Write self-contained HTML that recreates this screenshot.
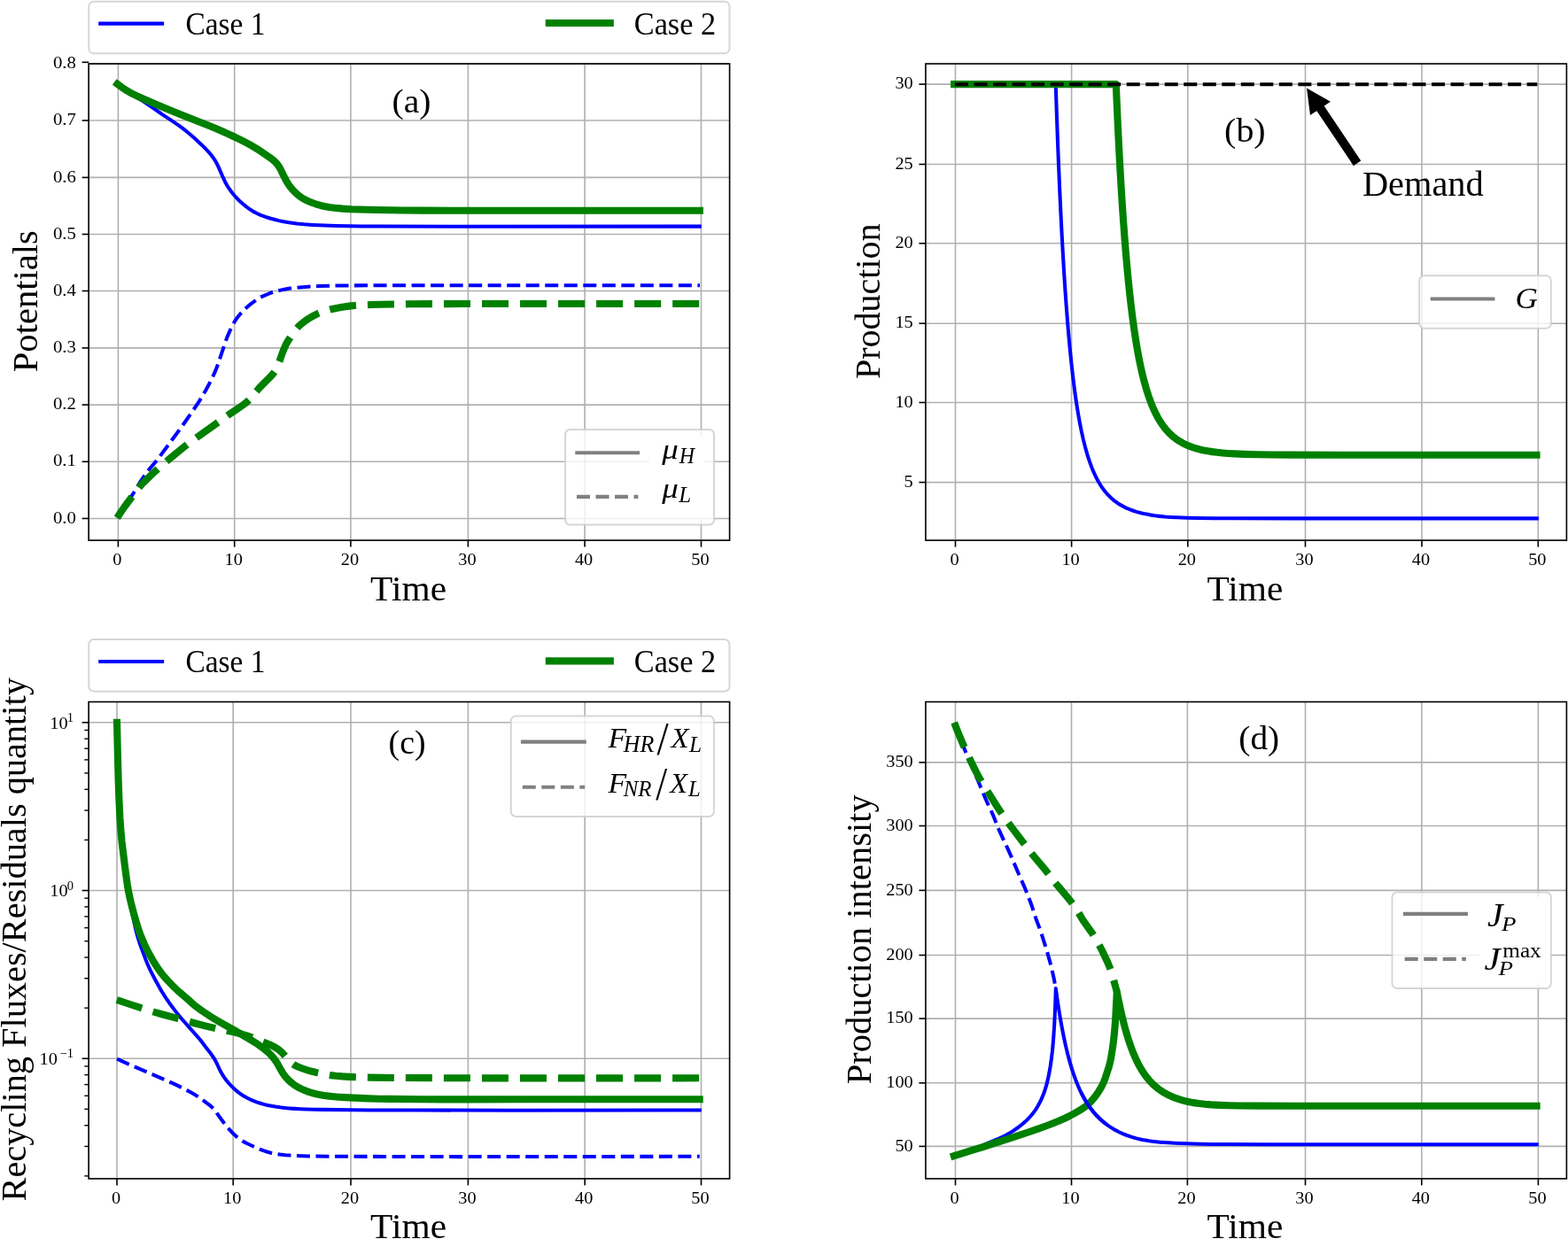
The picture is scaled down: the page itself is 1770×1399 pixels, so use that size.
<!DOCTYPE html>
<html lang="en"><head><meta charset="utf-8"><title>Figure</title><style>
html,body{margin:0;padding:0;background:#fff}
body{width:1770px;height:1399px;overflow:hidden}
svg{display:block}
text{font-family:"Liberation Serif","DejaVu Serif",serif;fill:#000}
.tk{font-size:19.3px}
.it{font-style:italic}
</style></head>
<body>
<svg width="1770" height="1399" viewBox="0 0 1770 1399">
<rect width="1770" height="1399" fill="#fff"/>
<defs>
<clipPath id="cpa"><rect x="100.1" y="72" width="723.5" height="538.1"/></clipPath>
<clipPath id="cpb"><rect x="1044.9" y="72" width="723.5" height="538.1"/></clipPath>
<clipPath id="cpc"><rect x="100.1" y="792.5" width="723.5" height="538.4"/></clipPath>
<clipPath id="cpd"><rect x="1044.9" y="792.5" width="723.5" height="538.4"/></clipPath>
</defs>
<g id="ax-a">
<g fill="none">
<path d="M133.4,72V610.1" stroke="#b0b0b0" stroke-width="1.6239999999999999"/>
<path d="M264.7,72V610.1" stroke="#b0b0b0" stroke-width="1.6239999999999999"/>
<path d="M395.9,72V610.1" stroke="#b0b0b0" stroke-width="1.6239999999999999"/>
<path d="M528.4,72V610.1" stroke="#b0b0b0" stroke-width="1.6239999999999999"/>
<path d="M660.1,72V610.1" stroke="#b0b0b0" stroke-width="1.6239999999999999"/>
<path d="M791.5,72V610.1" stroke="#b0b0b0" stroke-width="1.6239999999999999"/>
<path d="M100.1,585.45H823.6" stroke="#b0b0b0" stroke-width="1.6239999999999999"/>
<path d="M100.1,521.3H823.6" stroke="#b0b0b0" stroke-width="1.6239999999999999"/>
<path d="M100.1,457.1H823.6" stroke="#b0b0b0" stroke-width="1.6239999999999999"/>
<path d="M100.1,392.9H823.6" stroke="#b0b0b0" stroke-width="1.6239999999999999"/>
<path d="M100.1,328.5H823.6" stroke="#b0b0b0" stroke-width="1.6239999999999999"/>
<path d="M100.1,264.5H823.6" stroke="#b0b0b0" stroke-width="1.6239999999999999"/>
<path d="M100.1,200.4H823.6" stroke="#b0b0b0" stroke-width="1.6239999999999999"/>
<path d="M100.1,136.05H823.6" stroke="#b0b0b0" stroke-width="1.6239999999999999"/>
<path d="M100.1,71.9H823.6" stroke="#b0b0b0" stroke-width="1.6239999999999999"/>
</g>
<g fill="none" clip-path="url(#cpa)" stroke-linejoin="round">
<path d="M132.5,94.9L137.77,98.71L142.7,102.14L146.88,104.89L156.17,110.78L164.93,116.59L171.14,120.8L183.43,129.41L195.15,137.09L202.14,141.93L208.14,146.44L214.36,151.48L220.38,156.75L226.97,162.89L231.96,167.8L236.03,172.22L237.96,174.51L239.51,176.47L240.97,178.5L242.35,180.58L244.38,184.02L246.19,187.59L247.43,190.32L251.57,199.97L254.13,205.4L256.3,209.34L257.62,211.46L259.02,213.54L260.48,215.56L262.31,217.94L264.22,220.25L266.2,222.5L268.26,224.69L270.03,226.45L272.22,228.51L274.47,230.5L278.34,233.66L281.98,236.3L285.79,238.68L287.98,239.89L290.21,241.02L292.48,242.07L294.78,243.04L299.94,244.95L305.66,246.77L311.45,248.33L314.86,249.13L318.78,249.94L326.18,251.22L335.1,252.44L343.56,253.31L352.54,253.91L366.04,254.56L379.54,254.99L393.54,255.26L408.05,255.43L427.56,255.55L519.62,255.68L789.8,255.6" stroke="#0000ff" stroke-width="4.06" stroke-linecap="square"/>
<path d="M132.2,584.7L148.58,560.16L151.5,555.5L157.64,545.19L159.81,541.83L162.07,538.53L164.99,534.48L168.04,530.51L170.26,527.81L175.77,521.33L179.5,516.63L189.56,502.93L201.2,487.28L206.42,479.95L220.69,459.42L224.54,453.57L228.22,447.62L232.23,440.69L236.03,433.65L239.41,426.96L242.35,420.61L244.27,415.99L246.01,411.3L254.27,386.65L255.43,383.35L256.68,380.08L259.23,374.1L261.78,368.67L263.9,364.7L265.18,362.56L266.27,360.89L267.72,358.85L269.25,356.88L270.87,354.98L272.88,352.75L275.3,350.23L277.8,347.78L280.02,345.76L281.94,344.17L283.93,342.66L290,338.27L291.65,337.14L293.34,336.09L295.09,335.14L296.89,334.29L302.89,331.81L305.69,330.73L308.05,329.91L310.92,329.04L313.82,328.28L317.72,327.38L321.15,326.69L324.6,326.09L328.06,325.6L332.53,325.09L341.99,324.18L351.46,323.42L360.45,323L374.95,322.63L398.95,322.36L445.45,322.22L588.97,322.16L790,322.2" stroke="#0000ff" stroke-width="4.06" stroke-linecap="butt" stroke-dasharray="15.02,6.5" stroke-dashoffset="0.86"/>
<path d="M132.5,94.9L138.15,99.03L141.05,100.99L143.58,102.59L146.17,104.11L148.36,105.32L151.02,106.69L154.18,108.19L172.47,116.29L190.9,124.06L205.72,130.08L223.43,136.98L235.51,141.79L242.91,144.83L249.8,147.78L260.29,152.49L271.57,157.87L279.13,161.76L283.07,163.93L286.54,165.93L289.95,168.01L292.89,169.91L305.28,178.36L306.89,179.54L308.44,180.79L309.92,182.12L311.32,183.54L312.63,185.04L313.86,186.61L314.71,187.84L315.76,189.53L317.17,192.17L320.23,198.46L322.51,202.91L324.47,206.4L326.08,208.92L328.16,211.72L330.77,214.75L333.57,217.59L336.17,219.93L338.92,222.09L341.4,223.75L344.45,225.45L348.07,227.14L352.7,229.03L356.94,230.52L361.73,231.93L366.11,232.99L369.05,233.57L371.51,233.99L377.46,234.73L386.92,235.6L396.4,236.21L404.9,236.53L423.89,236.96L454.39,237.45L477.89,237.62L529.39,237.77L789.9,237.75" stroke="#008000" stroke-width="8.12" stroke-linecap="square"/>
<path d="M132.2,584.7L136.58,578L140.57,572.25L148.95,561.03L154.24,553.74L157.01,550.2L159.66,547.2L162.81,543.99L173.26,533.93L178.77,528.84L184.06,524.25L192.5,517.18L207.16,505.08L212.67,500.76L222.8,493.43L244.44,478.11L255.78,469.89L259.49,467.34L267.4,462.08L273.97,457.51L276.39,455.73L278.35,454.18L280.23,452.54L281.66,451.15L284.01,448.56L288.99,442.31L291.6,439.28L294.33,436.36L298.51,432.05L306.3,424.28L308.28,422.03L310.04,419.63L310.83,418.36L311.79,416.61L312.66,414.82L313.66,412.53L315.85,406.94L318.48,399.38L319.7,396.1L321.41,391.94L322.9,388.77L324.58,385.71L326.46,382.76L331.49,375.3L332.95,373.27L334.19,371.7L336.52,369.11L337.95,367.71L339.44,366.38L342.94,363.56L347.01,360.66L351.24,358L355.19,355.83L359.25,353.9L362.96,352.42L365.8,351.44L369.15,350.43L372.53,349.53L375.94,348.73L379.86,347.93L384.78,347.05L389.72,346.25L394.18,345.62L400.14,344.95L406.13,344.53L419.12,344.06L429.63,343.78L448.13,343.44L462.64,343.27L522.67,343.02L789.8,343" stroke="#008000" stroke-width="8.12" stroke-linecap="butt" stroke-dasharray="30.04,12.99" stroke-dashoffset="0.97"/>
</g>
<g fill="none">
<path d="M133.4,610.1v7.5" stroke="#000" stroke-width="1.6239999999999999"/>
<text x="127.33" y="637.7" class="tk" textLength="10.15" lengthAdjust="spacingAndGlyphs">0</text>
<path d="M264.7,610.1v7.5" stroke="#000" stroke-width="1.6239999999999999"/>
<text x="253.55" y="637.7" class="tk" textLength="20.3" lengthAdjust="spacingAndGlyphs">10</text>
<path d="M395.9,610.1v7.5" stroke="#000" stroke-width="1.6239999999999999"/>
<text x="384.75" y="637.7" class="tk" textLength="20.3" lengthAdjust="spacingAndGlyphs">20</text>
<path d="M528.4,610.1v7.5" stroke="#000" stroke-width="1.6239999999999999"/>
<text x="517.25" y="637.7" class="tk" textLength="20.3" lengthAdjust="spacingAndGlyphs">30</text>
<path d="M660.1,610.1v7.5" stroke="#000" stroke-width="1.6239999999999999"/>
<text x="648.95" y="637.7" class="tk" textLength="20.3" lengthAdjust="spacingAndGlyphs">40</text>
<path d="M791.5,610.1v7.5" stroke="#000" stroke-width="1.6239999999999999"/>
<text x="780.35" y="637.7" class="tk" textLength="20.3" lengthAdjust="spacingAndGlyphs">50</text>
<path d="M100.1,585.45h-7.5" stroke="#000" stroke-width="1.6239999999999999"/>
<text x="59.96" y="590.6" class="tk" textLength="25.94" lengthAdjust="spacingAndGlyphs">0.0</text>
<path d="M100.1,521.3h-7.5" stroke="#000" stroke-width="1.6239999999999999"/>
<text x="59.96" y="526.45" class="tk" textLength="25.94" lengthAdjust="spacingAndGlyphs">0.1</text>
<path d="M100.1,457.1h-7.5" stroke="#000" stroke-width="1.6239999999999999"/>
<text x="59.96" y="462.25" class="tk" textLength="25.94" lengthAdjust="spacingAndGlyphs">0.2</text>
<path d="M100.1,392.9h-7.5" stroke="#000" stroke-width="1.6239999999999999"/>
<text x="59.96" y="398.05" class="tk" textLength="25.94" lengthAdjust="spacingAndGlyphs">0.3</text>
<path d="M100.1,328.5h-7.5" stroke="#000" stroke-width="1.6239999999999999"/>
<text x="59.96" y="333.65" class="tk" textLength="25.94" lengthAdjust="spacingAndGlyphs">0.4</text>
<path d="M100.1,264.5h-7.5" stroke="#000" stroke-width="1.6239999999999999"/>
<text x="59.96" y="269.65" class="tk" textLength="25.94" lengthAdjust="spacingAndGlyphs">0.5</text>
<path d="M100.1,200.4h-7.5" stroke="#000" stroke-width="1.6239999999999999"/>
<text x="59.96" y="205.55" class="tk" textLength="25.94" lengthAdjust="spacingAndGlyphs">0.6</text>
<path d="M100.1,136.05h-7.5" stroke="#000" stroke-width="1.6239999999999999"/>
<text x="59.96" y="141.2" class="tk" textLength="25.94" lengthAdjust="spacingAndGlyphs">0.7</text>
<path d="M100.1,70.3h-7.5" stroke="#000" stroke-width="1.6239999999999999"/>
<text x="59.96" y="77.05" class="tk" textLength="25.94" lengthAdjust="spacingAndGlyphs">0.8</text>
</g>
<rect x="100.1" y="72" width="723.5" height="538.1" fill="none" stroke="#000" stroke-width="1.6239999999999999"/>
</g>
<g id="ax-b">
<g fill="none">
<path d="M1078.5,72V610.1" stroke="#b0b0b0" stroke-width="1.6239999999999999"/>
<path d="M1209.6,72V610.1" stroke="#b0b0b0" stroke-width="1.6239999999999999"/>
<path d="M1340.8,72V610.1" stroke="#b0b0b0" stroke-width="1.6239999999999999"/>
<path d="M1473.5,72V610.1" stroke="#b0b0b0" stroke-width="1.6239999999999999"/>
<path d="M1605,72V610.1" stroke="#b0b0b0" stroke-width="1.6239999999999999"/>
<path d="M1736.3,72V610.1" stroke="#b0b0b0" stroke-width="1.6239999999999999"/>
<path d="M1044.9,544.6H1768.4" stroke="#b0b0b0" stroke-width="1.6239999999999999"/>
<path d="M1044.9,454.5H1768.4" stroke="#b0b0b0" stroke-width="1.6239999999999999"/>
<path d="M1044.9,365.2H1768.4" stroke="#b0b0b0" stroke-width="1.6239999999999999"/>
<path d="M1044.9,274.8H1768.4" stroke="#b0b0b0" stroke-width="1.6239999999999999"/>
<path d="M1044.9,185.5H1768.4" stroke="#b0b0b0" stroke-width="1.6239999999999999"/>
<path d="M1044.9,95.1H1768.4" stroke="#b0b0b0" stroke-width="1.6239999999999999"/>
</g>
<g fill="none" clip-path="url(#cpb)" stroke-linejoin="round">
<path d="M1077.1,95.1L1191.7,95.1L1192.76,126.6L1193.82,156.09L1194.92,184.08L1196.06,211.07L1197.23,236.55L1198.45,261.04L1199.7,284.01L1201.01,305.98L1202.33,326.45L1203.71,345.91L1205.15,364.36L1206.64,381.81L1208.19,398.24L1209.8,413.66L1211.46,428.07L1213.17,441.47L1214.93,453.85L1216.81,465.71L1218.73,476.55L1220.77,486.85L1222.83,496.13L1225.02,504.86L1227.33,513.04L1229.77,520.66L1231.11,524.43L1232.35,527.71L1233.66,530.95L1235.06,534.17L1236.53,537.34L1237.87,540.03L1239.28,542.67L1240.77,545.28L1242.34,547.83L1243.99,550.33L1245.74,552.77L1247.27,554.75L1249.19,557.05L1250.87,558.9L1252.97,561.04L1254.79,562.75L1257.84,565.33L1261.05,567.71L1264.41,569.88L1267.88,571.85L1271.47,573.62L1275.15,575.19L1279.37,576.75L1283.66,578.09L1288.01,579.26L1292.88,580.36L1298.29,581.37L1303.73,582.2L1309.19,582.88L1315.16,583.47L1321.64,583.95L1328.64,584.34L1340.13,584.76L1353.63,585.05L1370.64,585.23L1393.65,585.34L1455.67,585.4L1734.8,585.4" stroke="#0000ff" stroke-width="4.06" stroke-linecap="square"/>
<path d="M1077.1,95.1L1259.8,95.1L1260.9,120.59L1262.03,145.07L1263.21,168.55L1264.39,190.53L1265.64,212L1266.9,231.97L1268.19,250.93L1269.52,268.89L1270.88,285.84L1272.32,302.28L1273.79,317.72L1275.35,332.64L1276.93,346.56L1278.55,359.46L1280.25,371.85L1282.04,383.72L1283.86,394.58L1285.77,404.9L1287.78,414.7L1289.78,423.48L1291.87,431.72L1294.05,439.42L1296.31,446.57L1298.83,453.64L1301.25,459.67L1303.94,465.59L1306.69,470.92L1308.17,473.53L1309.73,476.09L1311.38,478.6L1312.82,480.64L1314.32,482.64L1315.89,484.58L1317.52,486.47L1319.22,488.3L1320.99,490.07L1322.82,491.77L1325.89,494.32L1328.71,496.4L1331.63,498.31L1335.1,500.3L1338.68,502.08L1342.35,503.65L1346.1,505.04L1349.91,506.25L1354.26,507.43L1358.64,508.42L1363.56,509.36L1368.5,510.13L1373.95,510.82L1379.92,511.43L1386.41,511.95L1393.39,512.38L1405.39,512.89L1419.89,513.26L1437.39,513.5L1459.89,513.65L1513.91,513.74L1734.5,513.75" stroke="#008000" stroke-width="8.12" stroke-linecap="square"/>
<path d="M1078,95.2L1735.3,95.2" stroke="#000" stroke-width="4.06" stroke-linecap="butt" stroke-dasharray="15.02,6.5"/>
</g>
<g fill="none">
<path d="M1078.5,610.1v7.5" stroke="#000" stroke-width="1.6239999999999999"/>
<text x="1072.42" y="637.7" class="tk" textLength="10.15" lengthAdjust="spacingAndGlyphs">0</text>
<path d="M1209.6,610.1v7.5" stroke="#000" stroke-width="1.6239999999999999"/>
<text x="1198.45" y="637.7" class="tk" textLength="20.3" lengthAdjust="spacingAndGlyphs">10</text>
<path d="M1340.8,610.1v7.5" stroke="#000" stroke-width="1.6239999999999999"/>
<text x="1329.65" y="637.7" class="tk" textLength="20.3" lengthAdjust="spacingAndGlyphs">20</text>
<path d="M1473.5,610.1v7.5" stroke="#000" stroke-width="1.6239999999999999"/>
<text x="1462.35" y="637.7" class="tk" textLength="20.3" lengthAdjust="spacingAndGlyphs">30</text>
<path d="M1605,610.1v7.5" stroke="#000" stroke-width="1.6239999999999999"/>
<text x="1593.85" y="637.7" class="tk" textLength="20.3" lengthAdjust="spacingAndGlyphs">40</text>
<path d="M1736.3,610.1v7.5" stroke="#000" stroke-width="1.6239999999999999"/>
<text x="1725.15" y="637.7" class="tk" textLength="20.3" lengthAdjust="spacingAndGlyphs">50</text>
<path d="M1044.9,544.6h-7.5" stroke="#000" stroke-width="1.6239999999999999"/>
<text x="1020.55" y="549.75" class="tk" textLength="10.15" lengthAdjust="spacingAndGlyphs">5</text>
<path d="M1044.9,454.5h-7.5" stroke="#000" stroke-width="1.6239999999999999"/>
<text x="1010.4" y="459.65" class="tk" textLength="20.3" lengthAdjust="spacingAndGlyphs">10</text>
<path d="M1044.9,365.2h-7.5" stroke="#000" stroke-width="1.6239999999999999"/>
<text x="1010.4" y="370.35" class="tk" textLength="20.3" lengthAdjust="spacingAndGlyphs">15</text>
<path d="M1044.9,274.8h-7.5" stroke="#000" stroke-width="1.6239999999999999"/>
<text x="1010.4" y="279.95" class="tk" textLength="20.3" lengthAdjust="spacingAndGlyphs">20</text>
<path d="M1044.9,185.5h-7.5" stroke="#000" stroke-width="1.6239999999999999"/>
<text x="1010.4" y="190.65" class="tk" textLength="20.3" lengthAdjust="spacingAndGlyphs">25</text>
<path d="M1044.9,95.1h-7.5" stroke="#000" stroke-width="1.6239999999999999"/>
<text x="1010.4" y="100.25" class="tk" textLength="20.3" lengthAdjust="spacingAndGlyphs">30</text>
</g>
<rect x="1044.9" y="72" width="723.5" height="538.1" fill="none" stroke="#000" stroke-width="1.6239999999999999"/>
</g>
<g id="ax-c">
<g fill="none">
<path d="M132,792.5V1330.9" stroke="#b0b0b0" stroke-width="1.6239999999999999"/>
<path d="M263.2,792.5V1330.9" stroke="#b0b0b0" stroke-width="1.6239999999999999"/>
<path d="M396,792.5V1330.9" stroke="#b0b0b0" stroke-width="1.6239999999999999"/>
<path d="M528.4,792.5V1330.9" stroke="#b0b0b0" stroke-width="1.6239999999999999"/>
<path d="M660.2,792.5V1330.9" stroke="#b0b0b0" stroke-width="1.6239999999999999"/>
<path d="M791.5,792.5V1330.9" stroke="#b0b0b0" stroke-width="1.6239999999999999"/>
<path d="M100.1,815.8H823.6" stroke="#b0b0b0" stroke-width="1.6239999999999999"/>
<path d="M100.1,1005.52H823.6" stroke="#b0b0b0" stroke-width="1.6239999999999999"/>
<path d="M100.1,1195.24H823.6" stroke="#b0b0b0" stroke-width="1.6239999999999999"/>
</g>
<g fill="none" clip-path="url(#cpc)" stroke-linejoin="round">
<path d="M132,815.8L133.07,868.8L133.54,886.29L134.04,900.79L134.74,917.77L135.3,928.26L136.19,940.73L137.18,951.69L140.88,983.98L142.26,995.4L143.18,1002.34L144.24,1008.75L145.28,1014.15L146.52,1020.02L149.9,1034.64L152.91,1048.31L154.02,1052.67L155.21,1057.01L156.5,1061.32L157.72,1065.13L160.39,1072.67L164.64,1083.9L167.11,1089.91L169.61,1095.36L171.62,1099.39L174.15,1104.27L178.92,1113.06L181.41,1117.4L183.72,1121.26L185.84,1124.65L188.03,1128L190.6,1131.69L193.55,1135.73L198.37,1142.11L201.77,1146.44L204,1149.14L206.94,1152.54L222.59,1170.08L224.88,1172.73L227.68,1176.25L232.74,1183.07L238.59,1190.55L241.13,1194.26L242.44,1196.39L243.42,1198.13L244.99,1201.25L247.9,1207.61L249.03,1209.84L250.25,1212.02L252.63,1215.83L255.27,1219.47L257.17,1221.79L259.15,1224.04L261.56,1226.58L264.04,1229.04L266.26,1231.06L268.17,1232.67L270.54,1234.5L272.59,1235.93L275.55,1237.79L279.04,1239.74L282.17,1241.28L285.84,1242.87L289.58,1244.3L293.84,1245.74L297.68,1246.85L302.04,1247.94L306.45,1248.85L310.89,1249.61L315.84,1250.3L321.3,1250.92L326.78,1251.43L332.76,1251.87L338.75,1252.19L345.75,1252.46L354.25,1252.71L362.25,1252.88L395.75,1253.3L416.25,1253.42L472.26,1253.56L576.27,1253.66L789.8,1253.5" stroke="#0000ff" stroke-width="4.06" stroke-linecap="square"/>
<path d="M131.8,1195.5L145.92,1201.89L174.89,1214.27L184.04,1218.3L194.98,1223.22L201.77,1226.42L210.27,1230.65L215.14,1233.2L219.49,1235.68L223.28,1238.09L226.96,1240.68L236.96,1248.16L238.5,1249.42L239.6,1250.43L240.97,1251.87L242.23,1253.4L248.96,1262.72L251.94,1266.73L255.31,1271.08L258.51,1274.92L261.54,1278.24L264.38,1281.06L267.36,1283.71L270.51,1286.17L272.56,1287.59L274.26,1288.64L276.43,1289.86L278.65,1291.01L285.43,1294.22L293.24,1297.58L297.89,1299.39L302.16,1300.8L306.52,1301.92L311.42,1302.89L315.87,1303.52L321.84,1304.16L327.32,1304.59L333.31,1304.92L341.3,1305.24L347.8,1305.42L371.8,1305.72L446.8,1306L519.3,1306.1L789.8,1305.8" stroke="#0000ff" stroke-width="4.06" stroke-linecap="butt" stroke-dasharray="15.02,6.5" stroke-dashoffset="21.2"/>
<path d="M132,815.8L133.17,864.81L133.7,883.31L134.41,902.81L135.41,923.79L136.39,937.77L137.48,949.72L138.28,956.68L141.97,985.96L143.84,999.34L144.57,1003.78L145.3,1007.71L146.42,1013.1L147.76,1018.95L149.09,1024.29L150.63,1030.09L154.47,1043.56L155.81,1047.86L157.28,1052.11L159.03,1056.8L161.11,1061.89L163.13,1066.47L165.27,1070.99L167.08,1074.56L168.96,1078.09L172.94,1085.03L175.03,1088.44L177.2,1091.8L179.16,1094.7L181.2,1097.55L183.02,1099.94L184.59,1101.88L188.88,1106.76L194.4,1112.56L199.43,1117.43L202.79,1120.42L210.03,1126.58L216.71,1132.62L219.75,1135.22L222.1,1137.07L224.52,1138.86L231.5,1143.71L238.17,1148.12L244.57,1152.04L251.07,1155.79L263.75,1162.84L284.88,1175.26L289.1,1177.95L292.82,1180.48L296.47,1183.12L299.62,1185.57L302.66,1188.17L305.19,1190.59L307.57,1193.15L309.75,1195.88L311.47,1198.33L313.07,1200.87L317.75,1209.14L319.29,1211.71L320.69,1213.77L322.53,1216.13L324.86,1218.73L327.74,1221.5L330.43,1223.73L333.29,1225.74L336.29,1227.53L339.39,1229.15L343.02,1230.82L346.74,1232.31L350.04,1233.45L353.88,1234.56L357.77,1235.5L361.7,1236.27L366.14,1236.98L371.1,1237.61L376.58,1238.18L382.56,1238.69L389.05,1239.12L399.04,1239.65L416.03,1240.37L427.53,1240.69L440.03,1240.9L475.55,1241.25L501.56,1241.38L528.57,1241.4L590.6,1241.3L789.7,1241.3" stroke="#008000" stroke-width="8.12" stroke-linecap="square"/>
<path d="M131.8,1129L147.45,1134.23L162.21,1139L174.13,1142.75L182.78,1145.27L201.15,1150.12L219.45,1155.24L230.59,1158.11L244.71,1161.46L261.36,1164.87L268.67,1166.58L272.53,1167.61L276.86,1168.86L280.2,1169.9L283.52,1171.01L288.19,1172.79L304.36,1179.48L306.63,1180.53L308.86,1181.65L310.6,1182.63L312.3,1183.68L313.94,1184.8L315.53,1186.02L317.05,1187.31L318.5,1188.68L320.88,1191.23L326.1,1197.29L327.47,1198.74L328.54,1199.77L330.06,1201.04L331.27,1201.91L332.54,1202.69L334.29,1203.62L337.5,1205.02L342.18,1206.75L346.94,1208.28L352.23,1209.79L357.56,1211.14L363.42,1212.45L368.33,1213.38L373.28,1214.14L378.74,1214.76L386.72,1215.42L393.7,1215.84L402.7,1216.24L416.7,1216.6L449.2,1217.02L535.23,1217.33L585.74,1217.41L789.8,1217.3" stroke="#008000" stroke-width="8.12" stroke-linecap="butt" stroke-dasharray="30.04,12.99" stroke-dashoffset="0.13"/>
</g>
<g fill="none">
<path d="M132,1330.9v7.5" stroke="#000" stroke-width="1.6239999999999999"/>
<text x="125.92" y="1358.5" class="tk" textLength="10.15" lengthAdjust="spacingAndGlyphs">0</text>
<path d="M263.2,1330.9v7.5" stroke="#000" stroke-width="1.6239999999999999"/>
<text x="252.05" y="1358.5" class="tk" textLength="20.3" lengthAdjust="spacingAndGlyphs">10</text>
<path d="M396,1330.9v7.5" stroke="#000" stroke-width="1.6239999999999999"/>
<text x="384.85" y="1358.5" class="tk" textLength="20.3" lengthAdjust="spacingAndGlyphs">20</text>
<path d="M528.4,1330.9v7.5" stroke="#000" stroke-width="1.6239999999999999"/>
<text x="517.25" y="1358.5" class="tk" textLength="20.3" lengthAdjust="spacingAndGlyphs">30</text>
<path d="M660.2,1330.9v7.5" stroke="#000" stroke-width="1.6239999999999999"/>
<text x="649.05" y="1358.5" class="tk" textLength="20.3" lengthAdjust="spacingAndGlyphs">40</text>
<path d="M791.5,1330.9v7.5" stroke="#000" stroke-width="1.6239999999999999"/>
<text x="780.35" y="1358.5" class="tk" textLength="20.3" lengthAdjust="spacingAndGlyphs">50</text>
<path d="M100.1,815.8h-7.5" stroke="#000" stroke-width="1.6239999999999999"/>
<text x="56.3" y="822.6" class="tk" textLength="20.3" lengthAdjust="spacingAndGlyphs">10</text>
<text x="82.9" y="814.9" font-size="14.5" text-anchor="end">1</text>
<path d="M100.1,1005.52h-7.5" stroke="#000" stroke-width="1.6239999999999999"/>
<text x="56.3" y="1012.32" class="tk" textLength="20.3" lengthAdjust="spacingAndGlyphs">10</text>
<text x="82.9" y="1004.62" font-size="14.5" text-anchor="end">0</text>
<path d="M100.1,1195.24h-7.5" stroke="#000" stroke-width="1.6239999999999999"/>
<text x="44.5" y="1202.04" class="tk" textLength="20.3" lengthAdjust="spacingAndGlyphs">10</text>
<text x="82.9" y="1194.34" font-size="14.5" text-anchor="end">−1</text>
<path d="M100.1,948.41h-4.8" stroke="#000" stroke-width="1.4"/>
<path d="M100.1,915h-4.8" stroke="#000" stroke-width="1.4"/>
<path d="M100.1,891.3h-4.8" stroke="#000" stroke-width="1.4"/>
<path d="M100.1,872.91h-4.8" stroke="#000" stroke-width="1.4"/>
<path d="M100.1,857.89h-4.8" stroke="#000" stroke-width="1.4"/>
<path d="M100.1,845.19h-4.8" stroke="#000" stroke-width="1.4"/>
<path d="M100.1,834.19h-4.8" stroke="#000" stroke-width="1.4"/>
<path d="M100.1,824.48h-4.8" stroke="#000" stroke-width="1.4"/>
<path d="M100.1,1138.13h-4.8" stroke="#000" stroke-width="1.4"/>
<path d="M100.1,1104.72h-4.8" stroke="#000" stroke-width="1.4"/>
<path d="M100.1,1081.02h-4.8" stroke="#000" stroke-width="1.4"/>
<path d="M100.1,1062.63h-4.8" stroke="#000" stroke-width="1.4"/>
<path d="M100.1,1047.61h-4.8" stroke="#000" stroke-width="1.4"/>
<path d="M100.1,1034.91h-4.8" stroke="#000" stroke-width="1.4"/>
<path d="M100.1,1023.91h-4.8" stroke="#000" stroke-width="1.4"/>
<path d="M100.1,1014.2h-4.8" stroke="#000" stroke-width="1.4"/>
<path d="M100.1,1327.85h-4.8" stroke="#000" stroke-width="1.4"/>
<path d="M100.1,1294.44h-4.8" stroke="#000" stroke-width="1.4"/>
<path d="M100.1,1270.74h-4.8" stroke="#000" stroke-width="1.4"/>
<path d="M100.1,1252.35h-4.8" stroke="#000" stroke-width="1.4"/>
<path d="M100.1,1237.33h-4.8" stroke="#000" stroke-width="1.4"/>
<path d="M100.1,1224.63h-4.8" stroke="#000" stroke-width="1.4"/>
<path d="M100.1,1213.63h-4.8" stroke="#000" stroke-width="1.4"/>
<path d="M100.1,1203.92h-4.8" stroke="#000" stroke-width="1.4"/>
</g>
<rect x="100.1" y="792.5" width="723.5" height="538.4" fill="none" stroke="#000" stroke-width="1.6239999999999999"/>
</g>
<g id="ax-d">
<g fill="none">
<path d="M1078.5,792.5V1330.9" stroke="#b0b0b0" stroke-width="1.6239999999999999"/>
<path d="M1209.5,792.5V1330.9" stroke="#b0b0b0" stroke-width="1.6239999999999999"/>
<path d="M1340.4,792.5V1330.9" stroke="#b0b0b0" stroke-width="1.6239999999999999"/>
<path d="M1473.5,792.5V1330.9" stroke="#b0b0b0" stroke-width="1.6239999999999999"/>
<path d="M1604.8,792.5V1330.9" stroke="#b0b0b0" stroke-width="1.6239999999999999"/>
<path d="M1736.4,792.5V1330.9" stroke="#b0b0b0" stroke-width="1.6239999999999999"/>
<path d="M1044.9,1294.4H1768.4" stroke="#b0b0b0" stroke-width="1.6239999999999999"/>
<path d="M1044.9,1222.8H1768.4" stroke="#b0b0b0" stroke-width="1.6239999999999999"/>
<path d="M1044.9,1150.1H1768.4" stroke="#b0b0b0" stroke-width="1.6239999999999999"/>
<path d="M1044.9,1078.5H1768.4" stroke="#b0b0b0" stroke-width="1.6239999999999999"/>
<path d="M1044.9,1005.35H1768.4" stroke="#b0b0b0" stroke-width="1.6239999999999999"/>
<path d="M1044.9,932.5H1768.4" stroke="#b0b0b0" stroke-width="1.6239999999999999"/>
<path d="M1044.9,860.9H1768.4" stroke="#b0b0b0" stroke-width="1.6239999999999999"/>
</g>
<g fill="none" clip-path="url(#cpd)" stroke-linejoin="round">
<path d="M1076.9,1305.2L1083.6,1303.13L1089.29,1301.23L1095.4,1298.99L1101.91,1296.41L1128.64,1285.07L1134.06,1282.5L1136.72,1281.1L1139.33,1279.63L1144,1276.72L1148.91,1273.27L1151.7,1271.15L1154.05,1269.28L1156.34,1267.34L1158.19,1265.66L1159.99,1263.92L1161.72,1262.12L1163.39,1260.26L1165,1258.34L1166.54,1256.38L1168.02,1254.36L1169.43,1252.29L1170.77,1250.18L1173.24,1245.84L1174.38,1243.61L1175.66,1240.9L1177.78,1235.82L1178.82,1233L1179.78,1230.16L1181.49,1224.4L1182.92,1218.57L1184.42,1211.22L1185.69,1203.82L1186.9,1195.4L1187.9,1186.95L1188.65,1178.97L1189.49,1168L1190.21,1156.51L1190.79,1145.01L1191.36,1130.51L1191.8,1116L1193.24,1126.41L1194.7,1136.31L1196.2,1145.7L1197.8,1155.06L1199.45,1163.92L1201.12,1172.26L1202.82,1180.08L1204.54,1187.39L1206.4,1194.66L1208.29,1201.4L1210.18,1207.62L1212.23,1213.8L1214.27,1219.44L1216.49,1225.02L1218.7,1230.06L1221.08,1235.02L1223.66,1239.88L1226.19,1244.19L1228.91,1248.39L1231.53,1252.05L1234.32,1255.58L1237.28,1258.97L1240.41,1262.2L1243.7,1265.27L1247.15,1268.15L1250.76,1270.84L1254.5,1273.35L1258.8,1275.89L1262.78,1277.98L1267.33,1280.07L1271.5,1281.75L1276.22,1283.4L1279.57,1284.43L1282.95,1285.35L1286.35,1286.18L1289.77,1286.91L1293.21,1287.56L1297.16,1288.2L1301.13,1288.75L1305.1,1289.21L1309.58,1289.65L1315.07,1290.09L1326.55,1290.79L1339.55,1291.32L1355.05,1291.71L1369.06,1291.93L1385.57,1292.09L1432.6,1292.26L1734.8,1292.3" stroke="#0000ff" stroke-width="4.06" stroke-linecap="square"/>
<path d="M1076.9,1305.2L1086,1302.44L1099.36,1298.22L1110.38,1294.86L1121.8,1291.13L1142.77,1284.39L1159.87,1278.74L1168.88,1275.68L1177.84,1272.49L1185.79,1269.46L1195.09,1265.75L1200.15,1263.59L1206.02,1260.78L1212.22,1257.52L1215.28,1255.8L1218.29,1254.02L1220.84,1252.43L1223.35,1250.78L1225.38,1249.33L1227.35,1247.79L1228.86,1246.48L1230.3,1245.1L1231.99,1243.27L1233.92,1240.97L1236.71,1237.44L1238.49,1235.02L1239.89,1232.95L1241.47,1230.4L1242.97,1227.8L1244.39,1225.16L1246.07,1221.53L1247.66,1217.32L1251.08,1206.86L1251.93,1203.98L1252.69,1201.07L1253.37,1198.15L1254.05,1194.71L1255.61,1185.33L1256.8,1176.91L1257.8,1167.95L1258.57,1159.48L1259.21,1150.49L1260.8,1120L1262.44,1128.34L1263.97,1135.69L1265.48,1142.53L1267.07,1149.34L1268.64,1155.65L1270.31,1161.94L1271.95,1167.71L1273.56,1172.97L1275.27,1178.2L1276.93,1182.91L1278.71,1187.59L1280.62,1192.21L1282.45,1196.32L1284.42,1200.37L1286.53,1204.34L1288.54,1207.8L1290.69,1211.17L1292.68,1214.04L1295.11,1217.22L1297.36,1219.9L1300.09,1222.82L1302.6,1225.25L1305.24,1227.55L1307.99,1229.71L1310.84,1231.73L1313.8,1233.6L1316.84,1235.33L1320.41,1237.12L1324.07,1238.74L1327.8,1240.18L1331.59,1241.45L1335.43,1242.57L1341.26,1243.99L1347.15,1245.12L1353.58,1246.07L1360.04,1246.78L1367.52,1247.38L1376.5,1247.86L1386.5,1248.21L1398.5,1248.46L1421,1248.68L1456.01,1248.78L1734.6,1248.8" stroke="#008000" stroke-width="8.12" stroke-linecap="square"/>
<path d="M1220.55,1234.03L1223.63,1239.83L1226.72,1245.04L1229.8,1249.66L1233.12,1254.1L1235.05,1256.44L1236.71,1258.34L1240.2,1261.99L1243.89,1265.43L1248.55,1269.3" stroke="#0000ff" stroke-width="4.06" stroke-linecap="butt"/>
<path d="M1077.2,816L1083.41,832.38L1089.7,848.19L1093.78,857.88L1103.93,881.3L1111.58,899.8L1114.01,905.3L1118.7,915.26L1120.75,919.82L1122.46,923.99L1125.87,932.86L1127.83,937.47L1138.39,960.16L1142.49,969.29L1149.92,986.79L1157.15,1003.3L1159.25,1008.39L1161.62,1014.45L1163.72,1020.07L1165.55,1025.27L1169.85,1038.6L1173.43,1047.95L1174.94,1052.19L1178.78,1064.1L1181.88,1074.14L1184.87,1084.74L1186.38,1090.55L1187.69,1095.9L1189.85,1105.67L1191.8,1116" stroke="#0000ff" stroke-width="4.06" stroke-linecap="butt" stroke-dasharray="15.02,6.5"/>
<path d="M1077.2,816L1080.28,823.93L1082.89,830.44L1085.59,836.91L1088.18,842.87L1091.07,849.26L1094.7,856.96L1098.61,865.07L1101.75,871.34L1105.29,877.96L1108.57,883.57L1123.15,906.93L1127.19,913.26L1129.97,917.42L1132.81,921.54L1140.42,932.1L1145.54,938.9L1163.5,962.34L1168.21,968.19L1177.23,978.92L1181.04,983.56L1184.13,987.49L1190.21,995.45L1193.01,998.98L1195.9,1002.44L1204.35,1012.34L1206.87,1015.44L1209.31,1018.62L1212.82,1023.49L1216.17,1028.48L1218.27,1031.88L1221.8,1037.93L1223.41,1040.47L1231.54,1051.87L1234.04,1055.62L1236.42,1059.44L1240.17,1065.95L1243.65,1072.6L1249.06,1083.88L1250.72,1087.53L1252.07,1090.76L1253.47,1094.51L1254.85,1098.79L1258.29,1110.83L1260.8,1120" stroke="#008000" stroke-width="8.12" stroke-linecap="butt" stroke-dasharray="30.04,12.99"/>
</g>
<g fill="none">
<path d="M1078.5,1330.9v7.5" stroke="#000" stroke-width="1.6239999999999999"/>
<text x="1072.42" y="1358.5" class="tk" textLength="10.15" lengthAdjust="spacingAndGlyphs">0</text>
<path d="M1209.5,1330.9v7.5" stroke="#000" stroke-width="1.6239999999999999"/>
<text x="1198.35" y="1358.5" class="tk" textLength="20.3" lengthAdjust="spacingAndGlyphs">10</text>
<path d="M1340.4,1330.9v7.5" stroke="#000" stroke-width="1.6239999999999999"/>
<text x="1329.25" y="1358.5" class="tk" textLength="20.3" lengthAdjust="spacingAndGlyphs">20</text>
<path d="M1473.5,1330.9v7.5" stroke="#000" stroke-width="1.6239999999999999"/>
<text x="1462.35" y="1358.5" class="tk" textLength="20.3" lengthAdjust="spacingAndGlyphs">30</text>
<path d="M1604.8,1330.9v7.5" stroke="#000" stroke-width="1.6239999999999999"/>
<text x="1593.65" y="1358.5" class="tk" textLength="20.3" lengthAdjust="spacingAndGlyphs">40</text>
<path d="M1736.4,1330.9v7.5" stroke="#000" stroke-width="1.6239999999999999"/>
<text x="1725.25" y="1358.5" class="tk" textLength="20.3" lengthAdjust="spacingAndGlyphs">50</text>
<path d="M1044.9,1294.4h-7.5" stroke="#000" stroke-width="1.6239999999999999"/>
<text x="1010.4" y="1299.55" class="tk" textLength="20.3" lengthAdjust="spacingAndGlyphs">50</text>
<path d="M1044.9,1222.8h-7.5" stroke="#000" stroke-width="1.6239999999999999"/>
<text x="1000.25" y="1227.95" class="tk" textLength="30.45" lengthAdjust="spacingAndGlyphs">100</text>
<path d="M1044.9,1150.1h-7.5" stroke="#000" stroke-width="1.6239999999999999"/>
<text x="1000.25" y="1155.25" class="tk" textLength="30.45" lengthAdjust="spacingAndGlyphs">150</text>
<path d="M1044.9,1078.5h-7.5" stroke="#000" stroke-width="1.6239999999999999"/>
<text x="1000.25" y="1083.65" class="tk" textLength="30.45" lengthAdjust="spacingAndGlyphs">200</text>
<path d="M1044.9,1005.35h-7.5" stroke="#000" stroke-width="1.6239999999999999"/>
<text x="1000.25" y="1010.5" class="tk" textLength="30.45" lengthAdjust="spacingAndGlyphs">250</text>
<path d="M1044.9,932.5h-7.5" stroke="#000" stroke-width="1.6239999999999999"/>
<text x="1000.25" y="937.65" class="tk" textLength="30.45" lengthAdjust="spacingAndGlyphs">300</text>
<path d="M1044.9,860.9h-7.5" stroke="#000" stroke-width="1.6239999999999999"/>
<text x="1000.25" y="866.05" class="tk" textLength="30.45" lengthAdjust="spacingAndGlyphs">350</text>
</g>
<rect x="1044.9" y="792.5" width="723.5" height="538.4" fill="none" stroke="#000" stroke-width="1.6239999999999999"/>
</g>
<text transform="matrix(1.0207 0 0 1.0 418.08 677.8)" font-size="40.6">Time</text>
<text transform="matrix(1.0207 0 0 1.0 1362.48 677.8)" font-size="40.6">Time</text>
<text transform="matrix(1.0207 0 0 1.0 418.08 1398.2)" font-size="40.6">Time</text>
<text transform="matrix(1.0207 0 0 1.0 1362.48 1398.2)" font-size="40.6">Time</text>
<text transform="translate(42.01,420.2) rotate(-90) scale(0.9997,0.9684)" font-size="40.6">Potentials</text>
<text transform="translate(992.8,428.08) rotate(-90) scale(0.9855,0.993)" font-size="40.6">Production</text>
<text transform="translate(29.21,1356.49) rotate(-90) scale(0.9933,0.9649)" font-size="40.6">Recycling Fluxes/Residuals quantity</text>
<text transform="translate(982.78,1224.2) rotate(-90) scale(0.9963,1.0027)" font-size="40.6">Production intensity</text>
<text transform="matrix(1.1489 0 0 1.1065 442.53 126.63)" font-size="34.5">(a)</text>
<text transform="matrix(1.157 0 0 1.0912 1382.11 160.14)" font-size="34.5">(b)</text>
<text transform="matrix(1.095 0 0 1.1065 438.61 851.43)" font-size="34.5">(c)</text>
<text transform="matrix(1.1409 0 0 1.0976 1398.34 846.49)" font-size="34.5">(d)</text>
<text transform="matrix(0.9952 0 0 0.9895 1537.91 221.3)" font-size="40.6">Demand</text>
<polygon points="1534.86,181.24 1493.27,119.3 1500.03,114.75 1476.3,101.3 1479.77,128.36 1486.54,123.81 1528.14,185.76" fill="#000" stroke="#000" stroke-width="2" stroke-linejoin="miter"/>
<rect x="100.3" y="1.7" width="723.2" height="58.6" rx="5.6" fill="#fff" fill-opacity="0.8" stroke="#ccc" stroke-opacity="0.8" stroke-width="2"/>
<path d="M113.2,26.6H183.1" stroke="#0000ff" stroke-width="4.06" stroke-linecap="square" fill="none"/>
<text transform="matrix(0.9681 0 0 1.0174 209.5 38.8)" font-size="34.5">Case 1</text>
<path d="M619.8,26H688.8" stroke="#008000" stroke-width="8.12" stroke-linecap="square" fill="none"/>
<text transform="matrix(0.9944 0 0 1.0174 715.76 38.8)" font-size="34.5">Case 2</text>
<rect x="100.3" y="722.1" width="723.2" height="58.6" rx="5.6" fill="#fff" fill-opacity="0.8" stroke="#ccc" stroke-opacity="0.8" stroke-width="2"/>
<path d="M113.2,747H183.1" stroke="#0000ff" stroke-width="4.06" stroke-linecap="square" fill="none"/>
<text transform="matrix(0.9681 0 0 1.0174 209.5 759.2)" font-size="34.5">Case 1</text>
<path d="M619.8,746.4H688.8" stroke="#008000" stroke-width="8.12" stroke-linecap="square" fill="none"/>
<text transform="matrix(0.9944 0 0 1.0174 715.76 759.2)" font-size="34.5">Case 2</text>
<rect x="638.1" y="484.9" width="167.9" height="107.7" rx="5.6" fill="#fff" fill-opacity="0.8" stroke="#ccc" stroke-opacity="0.8" stroke-width="2"/>
<path d="M651.3,511.2H720.1" stroke="#808080" stroke-width="4.06" stroke-linecap="square" fill="none"/>
<path d="M651,560.9H720.4" stroke="#808080" stroke-width="4.06" stroke-dasharray="15.02,6.5" fill="none"/>
<rect x="732.8" y="493" width="62.2" height="91.6" fill="#fff"/>
<text transform="matrix(1.0708 0 0 0.9261 747.25 517.64)" font-size="34.5" class="it">μ</text>
<text transform="matrix(0.9867 0 0 1.0667 766.8 522.65)" font-size="24.2" class="it">H</text>
<text transform="matrix(1.0708 0 0 0.913 747.25 562.03)" font-size="34.5" class="it">μ</text>
<text transform="matrix(1.032 0 0 1.0349 766.21 566.75)" font-size="24.2" class="it">L</text>
<rect x="1602.2" y="311.2" width="148.6" height="59.6" rx="5.6" fill="#fff" fill-opacity="0.8" stroke="#ccc" stroke-opacity="0.8" stroke-width="2"/>
<path d="M1616.7,337.5H1685.4" stroke="#808080" stroke-width="4.06" stroke-linecap="square" fill="none"/>
<text transform="matrix(1.0202 0 0 0.9652 1710.41 348.21)" font-size="34.5" class="it">G</text>
<rect x="576.8" y="808.5" width="229.1" height="113.4" rx="5.6" fill="#fff" fill-opacity="0.8" stroke="#ccc" stroke-opacity="0.8" stroke-width="2"/>
<path d="M590,837.6H659.8" stroke="#808080" stroke-width="4.06" stroke-linecap="square" fill="none"/>
<path d="M589.8,888.8H660.2" stroke="#808080" stroke-width="4.06" stroke-dasharray="15.02,6.5" fill="none"/>
<text transform="matrix(0.9814 0 0 0.9333 686.5 843.65)" font-size="34.5" class="it">F</text>
<text transform="matrix(1.0687 0 0 1.0984 703.72 848.55)" font-size="24.2" class="it">HR</text>
<text transform="matrix(0.9887 0 0 1.1062 741.45 851.8)" font-size="48">/</text>
<text transform="matrix(0.9548 0 0 0.9333 757.4 843.65)" font-size="34.5" class="it">X</text>
<text transform="matrix(1.048 0 0 1.073 778.11 848.55)" font-size="24.2" class="it">L</text>
<text transform="matrix(0.9814 0 0 0.9378 686.5 894.75)" font-size="34.5" class="it">F</text>
<text transform="matrix(1.0276 0 0 1.0603 703.71 899.35)" font-size="24.2" class="it">NR</text>
<text transform="matrix(0.966 0 0 1.1031 740.25 902.8)" font-size="48">/</text>
<text transform="matrix(0.9419 0 0 0.9378 756.19 894.75)" font-size="34.5" class="it">X</text>
<text transform="matrix(1.024 0 0 1.0603 776.91 899.35)" font-size="24.2" class="it">L</text>
<rect x="1571.5" y="1007.6" width="179.3" height="108.4" rx="5.6" fill="#fff" fill-opacity="0.8" stroke="#ccc" stroke-opacity="0.8" stroke-width="2"/>
<path d="M1586,1031.9H1654.9" stroke="#808080" stroke-width="4.06" stroke-linecap="square" fill="none"/>
<path d="M1585.7,1082.9H1654.9" stroke="#808080" stroke-width="4.06" stroke-dasharray="15.02,6.5" fill="none"/>
<rect x="1671" y="1013.7" width="78.6" height="96.1" fill="#fff"/>
<text transform="matrix(1.1438 0 0 1.0725 1678.98 1046.28)" font-size="34.5" class="it">J</text>
<text transform="matrix(1.1158 0 0 0.9714 1695.05 1050.75)" font-size="24.2" class="it">P</text>
<text transform="matrix(1.1813 0 0 1.0242 1675.46 1094.99)" font-size="34.5" class="it">J</text>
<text transform="matrix(1.1158 0 0 0.9905 1691.45 1101.45)" font-size="24.2" class="it">P</text>
<text transform="matrix(1.0454 0 0 0.9217 1696.23 1080.82)" font-size="24.2">max</text>
</svg>
</body></html>
